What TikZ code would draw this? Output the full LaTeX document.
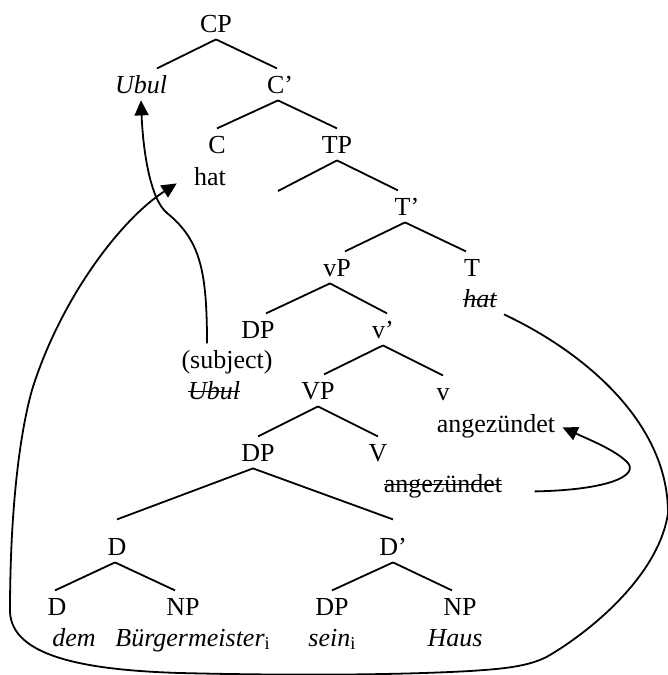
\documentclass[tikz,border=0pt]{standalone}
\usepackage{fontspec}
\setmainfont{Liberation Serif}
\usetikzlibrary{arrows.meta}

% struck-through text for deleted copies
\newsavebox{\strikebox}
\newcommand{\struck}[1]{\sbox{\strikebox}{#1}\rlap{\rule[0.27em]{\wd\strikebox}{0.7pt}}\usebox{\strikebox}}

\begin{document}
\begin{tikzpicture}[x=0.5pt,y=-0.5pt,
  lbl/.style={anchor=base, inner sep=3.5pt, text height=8.6pt, text depth=0pt,
              font=\fontsize{13}{15}\selectfont},
  branch/.style={line width=0.9pt},
  move/.style={line width=0.9pt, -{Triangle[length=7.5pt,width=7pt]}}]
\useasboundingbox (0,0) rectangle (668,675);

% --- labels of the tree ---
\node[lbl] (CP)      at (216,32)  {CP};
\node[lbl] (Ubul)    at (141,93)  {\itshape Ubul};
\node[lbl] (C1)      at (280,93)  {C’};
\node[lbl] (C)       at (217,153) {C};
\node[lbl] (hatC)    at (210,185) {hat};
\node[lbl] (TP)      at (337,153) {TP};
\coordinate (TPspec) at (278,191);
\node[lbl] (T1)      at (407,215) {T’};
\node[lbl] (vP)      at (337,276) {vP};
\node[lbl] (T)       at (472,276) {T};
\node[lbl] (hatT)    at (480,307) {\struck{\itshape hat}};
\node[lbl] (DPsubj)  at (258,338) {DP};
\node[lbl] (v1)      at (383,338) {v’};
\node[lbl] (subj)    at (227,368) {(subject)};
\node[lbl] (UbulLow) at (214,399) {\struck{\itshape Ubul}};
\node[lbl] (VP)      at (318,399) {VP};
\node[lbl] (v)       at (443,400) {v};
\node[lbl] (vWord)   at (496,432) {angezündet};
\node[lbl] (DPobj)   at (258,461) {DP};
\node[lbl] (V)       at (378,461) {V};
\node[lbl] (VWord)   at (443,492) {\struck{angezündet}};
\node[lbl] (Dbar)    at (117,555) {D};
\node[lbl] (D1)      at (393,555) {D’};
\node[lbl] (Dleaf)   at (57,615)  {D};
\node[lbl] (NPleft)  at (183,615) {NP};
\node[lbl] (DPposs)  at (332,615) {DP};
\node[lbl] (NPright) at (460,615) {NP};
\node[lbl] (dem)     at (74,646)  {\itshape dem};
\node[lbl, anchor=base west] (buerg) at (108,646) {\itshape Bürgermeister\textsubscript{\upshape i}};
\node[lbl, anchor=base west] (sein)  at (301,646) {\itshape sein\textsubscript{\upshape i}};
\node[lbl] (haus)    at (455,646) {\itshape Haus};

% --- branches ---
\draw[branch] (CP.south) -- ([xshift=8pt]Ubul.north);
\draw[branch] (CP.south) -- ([xshift=-1.5pt]C1.north);
\draw[branch] ([xshift=-1pt]C1.south) -- (C.north);
\draw[branch] ([xshift=-1pt]C1.south) -- (TP.north);
\draw[branch] (TP.south) -- (TPspec);
\draw[branch] (TP.south) -- ([xshift=-4.5pt]T1.north);
\draw[branch] ([xshift=-1pt]T1.south) -- ([xshift=4pt]vP.north);
\draw[branch] ([xshift=-1pt]T1.south) -- ([xshift=-3pt]T.north);
\draw[branch] ([xshift=-3.5pt]vP.south) -- ([xshift=4pt]DPsubj.north);
\draw[branch] ([xshift=-3.5pt]vP.south) -- ([xshift=2pt]v1.north);
\draw[branch] (v1.south) -- ([xshift=3pt]VP.north);
\draw[branch] (v1.south) -- (v.north);
\draw[branch] (VP.south) -- (DPobj.north);
\draw[branch] (VP.south) -- (V.north);
\draw[branch] ([xshift=-2.5pt]DPobj.south) -- ([yshift=5.5pt]Dbar.north);
\draw[branch] ([xshift=-2.5pt]DPobj.south) -- ([yshift=5.5pt]D1.north);
\draw[branch] ([xshift=-1pt]Dbar.south) -- ([xshift=-1pt]Dleaf.north);
\draw[branch] ([xshift=-1pt]Dbar.south) -- ([xshift=-4pt]NPleft.north);
\draw[branch] (D1.south) -- (DPposs.north);
\draw[branch] (D1.south) -- ([xshift=-4pt]NPright.north);

% --- movement arrows ---
\draw[move] ([xshift=-10pt]subj.north)
  .. controls (207,270) and (200,240) .. (167,213)
  .. controls (150,199) and (143,150) .. (Ubul.south);

\draw[move] (hatT.south east)
  .. controls (580,350) and (668,420) .. (668,513)
  .. controls (660,570) and (600,625) .. (550,655)
  .. controls (530,667) and (500,669) .. (470,671)
  .. controls (380,676) and (260,675) .. (180,673)
  .. controls (80,670) and (12,655) .. (10,612)
  .. controls (10,520) and (18,440) .. (32,390)
  .. controls (60,300) and (120,220) .. ([shift={(-5pt,-3.5pt)}]hatC.west);

\draw[move] ([shift={(12.5pt,-4pt)}]VWord.east)
  .. controls (610,490) and (640,475) .. (627,462)
  .. controls (615,450) and (590,440) .. ([yshift=-2pt]vWord.east);
\end{tikzpicture}
\end{document}
